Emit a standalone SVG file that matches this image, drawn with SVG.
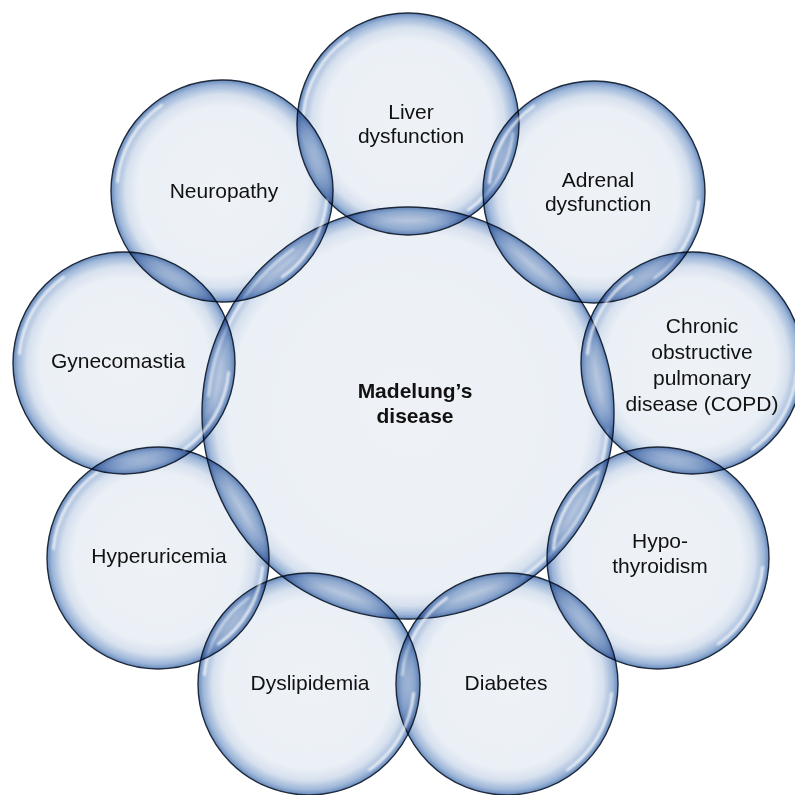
<svg xmlns="http://www.w3.org/2000/svg" xmlns:xlink="http://www.w3.org/1999/xlink" width="795" height="795" viewBox="0 0 795 795">
<defs>
<radialGradient id="gSmall" cx="50%" cy="50%" r="50%">
<stop offset="0" stop-color="#EEF2F7"/>
<stop offset="0.76" stop-color="#EBF0F6"/>
<stop offset="0.87" stop-color="#D6E0EE"/>
<stop offset="0.955" stop-color="#9DB6D8"/>
<stop offset="1" stop-color="#6689BD"/>
</radialGradient>
<radialGradient id="gBig" cx="50%" cy="50%" r="50%">
<stop offset="0" stop-color="#EEF2F7"/>
<stop offset="0.87" stop-color="#EBF0F6"/>
<stop offset="0.935" stop-color="#D6E0EE"/>
<stop offset="0.978" stop-color="#9DB6D8"/>
<stop offset="1" stop-color="#6689BD"/>
</radialGradient>
<filter id="soft" x="-20%" y="-20%" width="140%" height="140%">
<feGaussianBlur stdDeviation="1"/>
</filter>
<path id="hl" d="M -104.6 -9.2 A 105 105 0 0 1 -60.2 -86 M 104.6 9.2 A 105 105 0 0 1 60.2 86"/>
<path id="hlBig" d="M -199.2 -17.4 A 200 200 0 0 1 -114.7 -163.8 M 199.2 17.4 A 200 200 0 0 1 114.7 163.8"/>
</defs>
<style>
.b{fill:url(#gSmall);stroke:#1F2B3C;stroke-width:1.4;mix-blend-mode:multiply}
.bb{fill:url(#gBig);stroke:#1F2B3C;stroke-width:1.4;mix-blend-mode:multiply}
.h{fill:none;stroke:#FFFFFF;stroke-width:2.6;stroke-linecap:round;opacity:0.8;filter:url(#soft)}
.t{font-family:"Liberation Sans",Arial,sans-serif;font-size:21px;fill:#111111;text-anchor:middle}
.tb{font-family:"Liberation Sans",Arial,sans-serif;font-size:21px;font-weight:bold;fill:#111111;text-anchor:middle}
</style>
<rect x="0" y="0" width="795" height="795" fill="#FFFFFF"/>
<g id="connectors"/>
<g id="madelung">
<circle class="bb" cx="408" cy="413" r="206"/>
<use href="#hlBig" class="h" x="408" y="413"/>
<text class="tb" x="415" y="398">Madelung’s</text>
<text class="tb" x="415" y="423">disease</text>
</g>
<g id="liver">
<circle class="b" cx="408" cy="124" r="111"/>
<use href="#hl" class="h" x="408" y="124"/>
<text class="t" x="411" y="119">Liver</text>
<text class="t" x="411" y="143">dysfunction</text>
</g>
<g id="adrenal">
<circle class="b" cx="594" cy="192" r="111"/>
<use href="#hl" class="h" x="594" y="192"/>
<text class="t" x="598" y="187">Adrenal</text>
<text class="t" x="598" y="211">dysfunction</text>
</g>
<g id="copd">
<circle class="b" cx="692" cy="363" r="111"/>
<use href="#hl" class="h" x="692" y="363"/>
<text class="t" x="702" y="333">Chronic</text>
<text class="t" x="702" y="359">obstructive</text>
<text class="t" x="702" y="385">pulmonary</text>
<text class="t" x="702" y="411">disease (COPD)</text>
</g>
<g id="hypothyroidism">
<circle class="b" cx="658" cy="558" r="111"/>
<use href="#hl" class="h" x="658" y="558"/>
<text class="t" x="660" y="548">Hypo-</text>
<text class="t" x="660" y="573">thyroidism</text>
</g>
<g id="diabetes">
<circle class="b" cx="507" cy="684" r="111"/>
<use href="#hl" class="h" x="507" y="684"/>
<text class="t" x="506" y="690">Diabetes</text>
</g>
<g id="dyslipidemia">
<circle class="b" cx="309" cy="684" r="111"/>
<use href="#hl" class="h" x="309" y="684"/>
<text class="t" x="310" y="690">Dyslipidemia</text>
</g>
<g id="hyperuricemia">
<circle class="b" cx="158" cy="558" r="111"/>
<use href="#hl" class="h" x="158" y="558"/>
<text class="t" x="159" y="563">Hyperuricemia</text>
</g>
<g id="gynecomastia">
<circle class="b" cx="124" cy="363" r="111"/>
<use href="#hl" class="h" x="124" y="363"/>
<text class="t" x="118" y="368">Gynecomastia</text>
</g>
<g id="neuropathy">
<circle class="b" cx="222" cy="191" r="111"/>
<use href="#hl" class="h" x="222" y="191"/>
<text class="t" x="224" y="198">Neuropathy</text>
</g>
</svg>
